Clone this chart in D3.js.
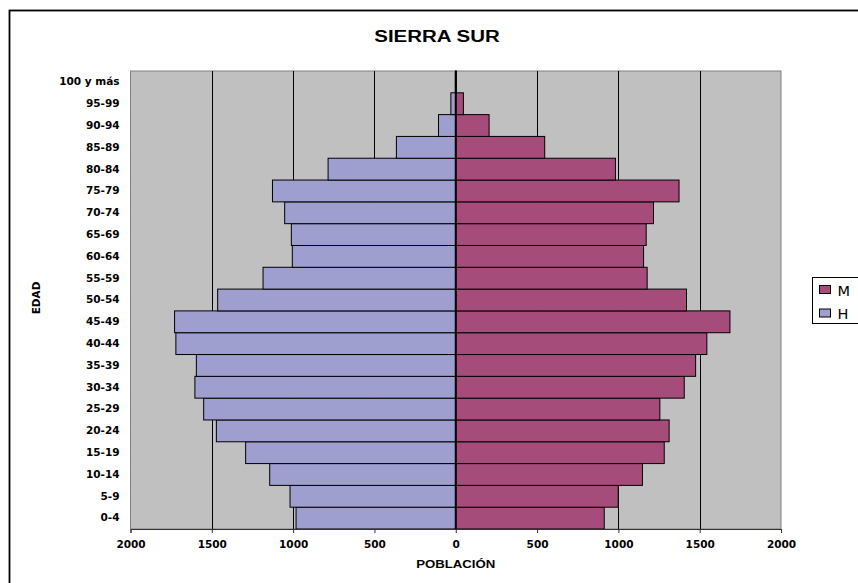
<!DOCTYPE html>
<html>
<head>
<meta charset="utf-8">
<script src="https://cdn.jsdelivr.net/npm/d3@7"></script>
<style>
  body { margin: 0; background: #fff; }
  text { font-family: "DejaVu Sans", "Liberation Sans", Arial, sans-serif; }
</style>
</head>
<body>
<div id="chart"></div>
<script>
// age groups, bottom to top
var ageGroups = ["0-4", "5-9", "10-14", "15-19", "20-24", "25-29", "30-34", "35-39",
  "40-44", "45-49", "50-54", "55-59", "60-64", "65-69", "70-74", "75-79",
  "80-84", "85-89", "90-94", "95-99", "100 y más"];

// hombres (left side)
var hombres = [982, 1019, 1144, 1292, 1472, 1550, 1604, 1595, 1721, 1729, 1464, 1185,
  1005, 1011, 1052, 1127, 785, 365, 106, 30, 2];

// mujeres (right side)
var mujeres = [913, 999, 1148, 1282, 1312, 1255, 1405, 1475, 1544, 1686, 1419, 1177,
  1155, 1171, 1216, 1373, 982, 547, 205, 47, 3];

var xTicks = [-2000, -1500, -1000, -500, 0, 500, 1000, 1500, 2000];

var colorH = "#9e9fcf",
    colorM = "#a64c7b";

var width = 858, height = 583;
var plot = {left: 130.5, right: 781, top: 71, bottom: 529};

var svg = d3.select("#chart").append("svg")
    .attr("width", width)
    .attr("height", height);

// outer chart frame (runs off the right / bottom edge)
svg.append("rect")
    .attr("x", 9.5).attr("y", 10.5)
    .attr("width", 900).attr("height", 600)
    .attr("fill", "#fff")
    .attr("stroke", "#000")
    .attr("stroke-width", 1.8);

var x = d3.scaleLinear()
    .domain([-2000, 2000])
    .range([plot.left, plot.right]);

var y = d3.scaleBand()
    .domain(ageGroups.slice().reverse())
    .range([plot.top, plot.bottom])
    .padding(0);

// plot background
svg.append("rect")
    .attr("x", plot.left).attr("y", plot.top)
    .attr("width", plot.right - plot.left)
    .attr("height", plot.bottom - plot.top)
    .attr("fill", "#c0c0c0")
    .attr("stroke", "#808080")
    .attr("stroke-width", 1);

// gridlines
svg.append("g").selectAll("line")
    .data(xTicks.filter(function(d) { return Math.abs(d) !== 2000 && d !== 0; }))
  .enter().append("line")
    .attr("x1", function(d) { return Math.round(x(d)) + 0.5; })
    .attr("x2", function(d) { return Math.round(x(d)) + 0.5; })
    .attr("y1", plot.top)
    .attr("y2", plot.bottom)
    .attr("stroke", "#000")
    .attr("stroke-width", 1);

// bars
var bars = svg.append("g");
bars.selectAll(".barH")
    .data(ageGroups)
  .enter().append("rect")
    .attr("class", "barH")
    .attr("x", function(d, i) { return x(-hombres[i]); })
    .attr("y", function(d) { return y(d); })
    .attr("width", function(d, i) { return x(0) - x(-hombres[i]); })
    .attr("height", y.bandwidth())
    .attr("fill", colorH)
    .attr("stroke", "#000")
    .attr("stroke-width", 1);

bars.selectAll(".barM")
    .data(ageGroups)
  .enter().append("rect")
    .attr("class", "barM")
    .attr("x", x(0))
    .attr("y", function(d) { return y(d); })
    .attr("width", function(d, i) { return x(mujeres[i]) - x(0); })
    .attr("height", y.bandwidth())
    .attr("fill", colorM)
    .attr("stroke", "#000")
    .attr("stroke-width", 1);

// centre line
svg.append("line")
    .attr("x1", x(0)).attr("x2", x(0))
    .attr("y1", plot.top).attr("y2", plot.bottom)
    .attr("stroke", "#000")
    .attr("stroke-width", 2);

// x axis
var xAxis = d3.axisBottom(x)
    .tickValues(xTicks)
    .tickSize(4)
    .tickPadding(8)
    .tickFormat(function(d) { return Math.abs(d); });

var xAxisG = svg.append("g")
    .attr("transform", "translate(0," + plot.bottom + ")")
    .call(xAxis);
xAxisG.select(".domain").attr("stroke", "#333");
xAxisG.selectAll(".tick line").attr("stroke", "#333");
xAxisG.selectAll("text")
    .attr("fill", "#000")
    .style("font-size", "10.5px")
    .style("font-weight", "bold")
    .style("font-family", "'DejaVu Sans', Arial, sans-serif");

// y category labels
var yAxis = d3.axisLeft(y).tickSize(0).tickPadding(11);
var yAxisG = svg.append("g")
    .attr("transform", "translate(" + plot.left + ",0)")
    .call(yAxis);
yAxisG.select(".domain").remove();
yAxisG.selectAll("text")
    .attr("fill", "#000")
    .style("font-size", "10.5px")
    .style("font-weight", "bold")
    .style("font-family", "'DejaVu Sans', Arial, sans-serif");

// title (wide bold face, stretched like the original)
svg.append("text")
    .attr("transform", "translate(437,42) scale(1.28,1)")
    .attr("text-anchor", "middle")
    .style("font-family", "'Liberation Sans', Arial, sans-serif")
    .style("font-size", "16px")
    .style("font-weight", "bold")
    .text("SIERRA SUR");

// axis titles
svg.append("text")
    .attr("transform", "translate(" + x(0) + ",568) scale(1.2,1)")
    .attr("text-anchor", "middle")
    .style("font-family", "'Liberation Sans', Arial, sans-serif")
    .style("font-size", "11px")
    .style("font-weight", "bold")
    .text("POBLACIÓN");

svg.append("text")
    .attr("transform", "translate(40,298) rotate(-90)")
    .attr("text-anchor", "middle")
    .style("font-size", "10.5px")
    .style("font-weight", "bold")
    .text("EDAD");

// legend
var legend = svg.append("g").attr("transform", "translate(812.5,277.5)");
legend.append("rect")
    .attr("width", 60).attr("height", 46)
    .attr("fill", "#fff")
    .attr("stroke", "#000")
    .attr("stroke-width", 1);

var legendItems = [{label: "M", color: colorM}, {label: "H", color: colorH}];
var li = legend.selectAll(".item")
    .data(legendItems)
  .enter().append("g")
    .attr("class", "item")
    .attr("transform", function(d, i) { return "translate(0," + (i * 23.5) + ")"; });
li.append("rect")
    .attr("x", 7).attr("y", 8)
    .attr("width", 11).attr("height", 8)
    .attr("fill", function(d) { return d.color; })
    .attr("stroke", "#000")
    .attr("stroke-width", 1);
li.append("text")
    .attr("x", 25).attr("y", 18)
    .style("font-size", "14.5px")
    .text(function(d) { return d.label; });
</script>
</body>
</html>
